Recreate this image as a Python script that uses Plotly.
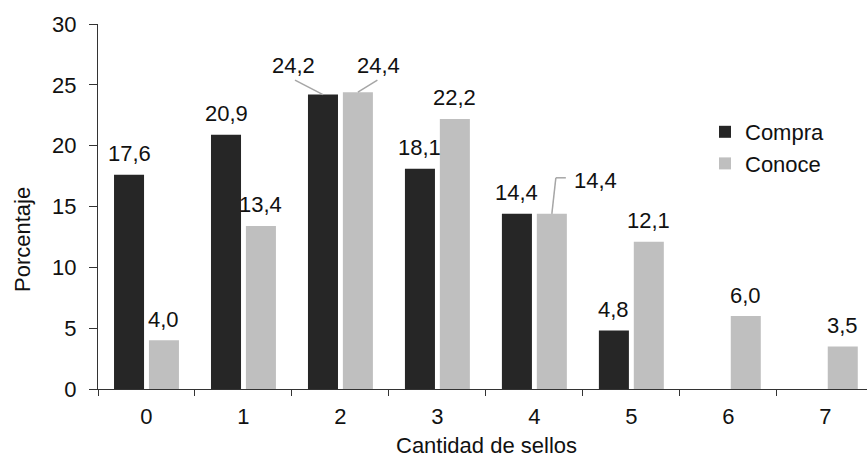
import plotly.graph_objects as go

# Number of seals (categories) and percentages per group
categorias = ["0", "1", "2", "3", "4", "5", "6", "7"]
compra = [17.6, 20.9, 24.2, 18.1, 14.4, 4.8, None, None]
conoce = [4.0, 13.4, 24.4, 22.2, 14.4, 12.1, 6.0, 3.5]
y_ticks = [0, 5, 10, 15, 20, 25, 30]

COLOR_COMPRA = "#262626"
COLOR_CONOCE = "#bfbfbf"
TEXT_COLOR = "#111111"
LEADER_COLOR = "#a6a6a6"
FONT = "Liberation Sans, Arial, sans-serif"

BARGAP = 0.28
SLOT = (1 - BARGAP) / 2          # width of one bar slot, in category units
OFFSETS = {"Compra": -SLOT / 2, "Conoce": SLOT / 2}

# Pixel placement of value labels (cap centre above the bar top);
# a few labels sit aside with a leader line.
DEFAULT_SHIFT = (0, 21)
LABEL_SHIFT = {
    ("Compra", 2): (-29, 29.5),
    ("Conoce", 2): (20.5, 27),
    ("Conoce", 4): (44, 33.5),
}
# Leader-line segments as pixel offsets from the bar top
LEADERS = {
    ("Compra", 2): [((0, 0), (-28, 14.5))],
    ("Conoce", 2): [((0, 0), (19.5, 12))],
    ("Conoce", 4): [((0, 0), (4, 36)), ((4, 36), (14, 36))],
}

fig = go.Figure()
fig.add_trace(go.Bar(name="Compra", x=categorias, y=compra,
                     marker=dict(color=COLOR_COMPRA, line=dict(width=0)),
                     legendgroup="a"))
fig.add_trace(go.Bar(name="Conoce", x=categorias, y=conoce,
                     marker=dict(color=COLOR_CONOCE, line=dict(width=0)),
                     legendgroup="b"))

annotations = []
shapes = []
for serie, valores in (("Compra", compra), ("Conoce", conoce)):
    for i, v in enumerate(valores):
        if v is None:
            continue
        xc = i + OFFSETS[serie]
        dx, dy = LABEL_SHIFT.get((serie, i), DEFAULT_SHIFT)
        annotations.append(dict(
            x=xc, y=v, xref="x", yref="y",
            text=f"{v:.1f}".replace(".", ","),
            showarrow=False, xanchor="center", yanchor="middle",
            xshift=dx, yshift=dy,
            font=dict(family=FONT, size=22, color=TEXT_COLOR),
        ))
        for (x0, y0), (x1, y1) in LEADERS.get((serie, i), []):
            shapes.append(dict(
                type="line", xref="x", yref="y",
                xsizemode="pixel", ysizemode="pixel",
                xanchor=xc, yanchor=v,
                x0=x0, y0=y0, x1=x1, y1=y1,
                line=dict(color=LEADER_COLOR, width=1.5),
            ))

# Axis titles
annotations.append(dict(
    text="Cantidad de sellos", xref="paper", yref="paper",
    x=(487 - 98) / 769, y=-57 / 365, xanchor="center", yanchor="middle",
    showarrow=False, font=dict(family=FONT, size=22, color=TEXT_COLOR),
))
annotations.append(dict(
    text="Porcentaje", xref="paper", yref="paper", textangle=-90,
    x=(22 - 98) / 769, y=(389 - 240) / 365, xanchor="center", yanchor="middle",
    showarrow=False, font=dict(family=FONT, size=22, color=TEXT_COLOR),
))

fig.update_layout(
    width=867, height=457,
    margin=dict(l=98, r=0, t=24, b=68, pad=0),
    paper_bgcolor="white", plot_bgcolor="white",
    barmode="group", bargap=BARGAP, bargroupgap=0.14,
    font=dict(family=FONT, size=22, color=TEXT_COLOR),
    showlegend=True,
    legend=dict(
        x=(705 - 98) / 769, y=(389 - 111) / 365,
        xanchor="left", yanchor="top",
        bgcolor="rgba(0,0,0,0)", borderwidth=0,
        font=dict(family=FONT, size=22, color=TEXT_COLOR),
        tracegroupgap=6, traceorder="normal",
    ),
    xaxis=dict(
        type="category", range=[-0.5, 7.43],
        showline=True, linecolor="#333333", linewidth=1,
        ticks="outside", tickson="boundaries", ticklen=6,
        tickcolor="#333333", tickwidth=1,
        showgrid=False, zeroline=False,
        tickfont=dict(family=FONT, size=22, color=TEXT_COLOR),
        ticklabelstandoff=8,
    ),
    yaxis=dict(
        range=[0, 30], tickvals=y_ticks,
        showline=True, linecolor="#333333", linewidth=1,
        ticks="outside", ticklen=8, tickcolor="#333333", tickwidth=1,
        showgrid=False, zeroline=False,
        tickfont=dict(family=FONT, size=22, color=TEXT_COLOR),
        ticklabelstandoff=8,
    ),
    annotations=annotations,
    shapes=shapes,
)

fig.write_html("out.html")
